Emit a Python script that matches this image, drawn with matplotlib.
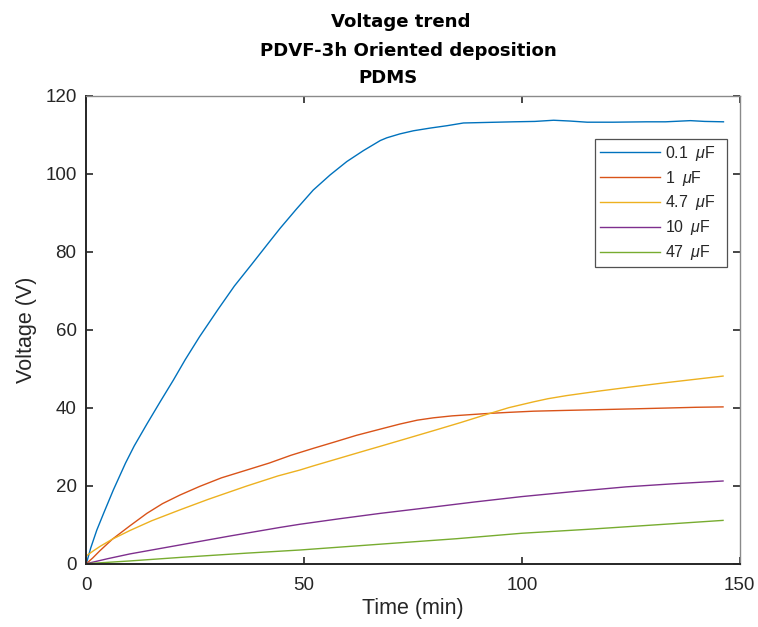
import matplotlib
matplotlib.use("Agg")
import matplotlib.pyplot as plt

plt.rcParams['font.family'] = ['Liberation Sans', 'DejaVu Sans']
plt.rcParams['mathtext.fontset'] = 'custom'
plt.rcParams['mathtext.it'] = 'Liberation Sans:italic'
plt.rcParams['mathtext.rm'] = 'Liberation Sans'

# Charging curves for each capacitor (time in minutes, voltage in volts)
t_01 = [0, 1, 2.4, 4, 6.2, 9, 11, 13.9, 17, 20, 22.7, 26, 30.3, 34, 38, 41.8, 44.5,
        48.3, 52.1, 56, 59.8, 63.6, 67.5, 69, 72, 75.1, 79, 82.8, 86.6, 90.4, 98.1,
        103, 107.3, 111, 115, 121, 128.6, 133, 138.7, 142, 146.3]
v_01 = [0, 4, 8.6, 13, 18.9, 25.8, 30.2, 35.8, 41.6, 47.1, 52.3, 58.2, 65.3, 71.2, 76.8,
        82.2, 86.0, 91.0, 95.8, 99.7, 103.1, 105.9, 108.5, 109.2, 110.2, 111.0, 111.7,
        112.3, 113.0, 113.1, 113.3, 113.4, 113.7, 113.5, 113.2, 113.2, 113.3, 113.3,
        113.6, 113.4, 113.3]

t_1 = [0, 1.5, 3.1, 6, 10, 13.9, 17.5, 21.5, 26, 31, 36.8, 42, 47, 52.2, 57, 62, 67.5,
       72, 76, 79.7, 84, 88, 92, 97, 102.7, 110, 118, 125.7, 133, 140, 146.2]
v_1 = [0, 1.5, 3.3, 6.3, 9.7, 12.9, 15.4, 17.6, 19.8, 22.0, 24.0, 25.8, 27.8, 29.6,
       31.2, 32.9, 34.5, 35.8, 36.8, 37.4, 37.9, 38.2, 38.5, 38.8, 39.1, 39.3, 39.5,
       39.7, 39.9, 40.1, 40.2]

t_47 = [0, 1.5, 3.1, 6, 10, 15, 21.5, 28, 36.8, 44, 49, 52.2, 58, 64.4, 67.5, 73, 79.7,
        86, 92, 97, 102.7, 106, 110.3, 118, 125.7, 133, 140, 146.2]
v_47 = [2.0, 3.2, 4.4, 6.3, 8.5, 11.0, 13.8, 16.5, 19.9, 22.5, 24.0, 25.1, 27.0, 29.1,
        30.1, 31.9, 34.1, 36.2, 38.3, 40.0, 41.5, 42.3, 43.1, 44.3, 45.4, 46.4, 47.3, 48.1]

t_10 = [0, 5, 10, 21.5, 33, 44.5, 49, 58, 67.5, 78, 89, 100, 112, 124, 135, 146.2]
v_10 = [0, 1.3, 2.5, 4.8, 7.1, 9.3, 10.1, 11.5, 12.9, 14.3, 15.8, 17.2, 18.5, 19.7,
        20.5, 21.2]

t_470 = [0, 10, 21.5, 36.8, 49, 67.5, 85, 100, 115, 130, 146.2]
v_470 = [0, 0.7, 1.6, 2.7, 3.5, 5.0, 6.4, 7.8, 8.8, 9.9, 11.1]

labels = [r'0.1 $\;\mu$F', r'1 $\;\mu$F', r'4.7 $\;\mu$F', r'10 $\;\mu$F', r'47 $\;\mu$F']
colors = ['#0072BD', '#D95319', '#EDB120', '#7E2F8E', '#77AC30']
series = [(t_01, v_01), (t_1, v_1), (t_47, v_47), (t_10, v_10), (t_470, v_470)]

title_lines = ['Voltage trend', 'PDVF-3h Oriented deposition', 'PDMS']

fig = plt.figure(figsize=(7.58, 6.27), dpi=100)
ax = fig.add_axes([0.1139, 0.1010, 0.8618, 0.7464])

for (t, v), c, lab in zip(series, colors, labels):
    ax.plot(t, v, color=c, lw=1.0, label=lab)

ax.set_xlim(0, 150)
ax.set_ylim(0, 120)
ax.set_xticks([0, 50, 100, 150])
ax.set_yticks([0, 20, 40, 60, 80, 100, 120])

dark = '#262626'
grey = '#8a8a8a'
for s in ['left', 'bottom']:
    ax.spines[s].set_color(dark)
    ax.spines[s].set_linewidth(1.4)
for s in ['top', 'right']:
    ax.spines[s].set_color(grey)
    ax.spines[s].set_linewidth(1.0)

ax.tick_params(axis='both', direction='in', length=5, width=1.2, color=dark,
               labelsize=13.5, labelcolor=dark, top=True, right=True)
ax.tick_params(axis='x', pad=9.5)
ax.tick_params(axis='y', pad=7)
for tk in ax.xaxis.get_major_ticks():
    tk.tick2line.set_color(grey)

ax.set_xlabel('Time (min)', fontsize=15.5, color=dark, labelpad=3)
ax.set_ylabel('Voltage (V)', fontsize=15.5, color=dark, labelpad=6)

# three-line bold heading, each line placed on its own baseline
title_x = [0.5284, 0.5383, 0.5119]
title_y = [0.9577, 0.9107, 0.8676]
for txt, x, y in zip(title_lines, title_x, title_y):
    fig.text(x, y, txt, ha='center', va='baseline', fontsize=13.1,
             fontweight='bold', family='DejaVu Sans', color='black')

# legend box spanning a fixed width, entries left-aligned inside it
leg = ax.legend(loc='upper right', bbox_to_anchor=(0.7787, 0.8075, 0.2021, 0.1),
                mode='expand', borderaxespad=0, fontsize=11.5, frameon=True,
                fancybox=False, handlelength=3.76, handletextpad=0.31,
                labelspacing=0.37, borderpad=0.29)
leg.get_frame().set_edgecolor(dark)
leg.get_frame().set_linewidth(0.9)
for txt in leg.get_texts():
    txt.set_color(dark)

fig.savefig('out.png', dpi=100, facecolor='white')
